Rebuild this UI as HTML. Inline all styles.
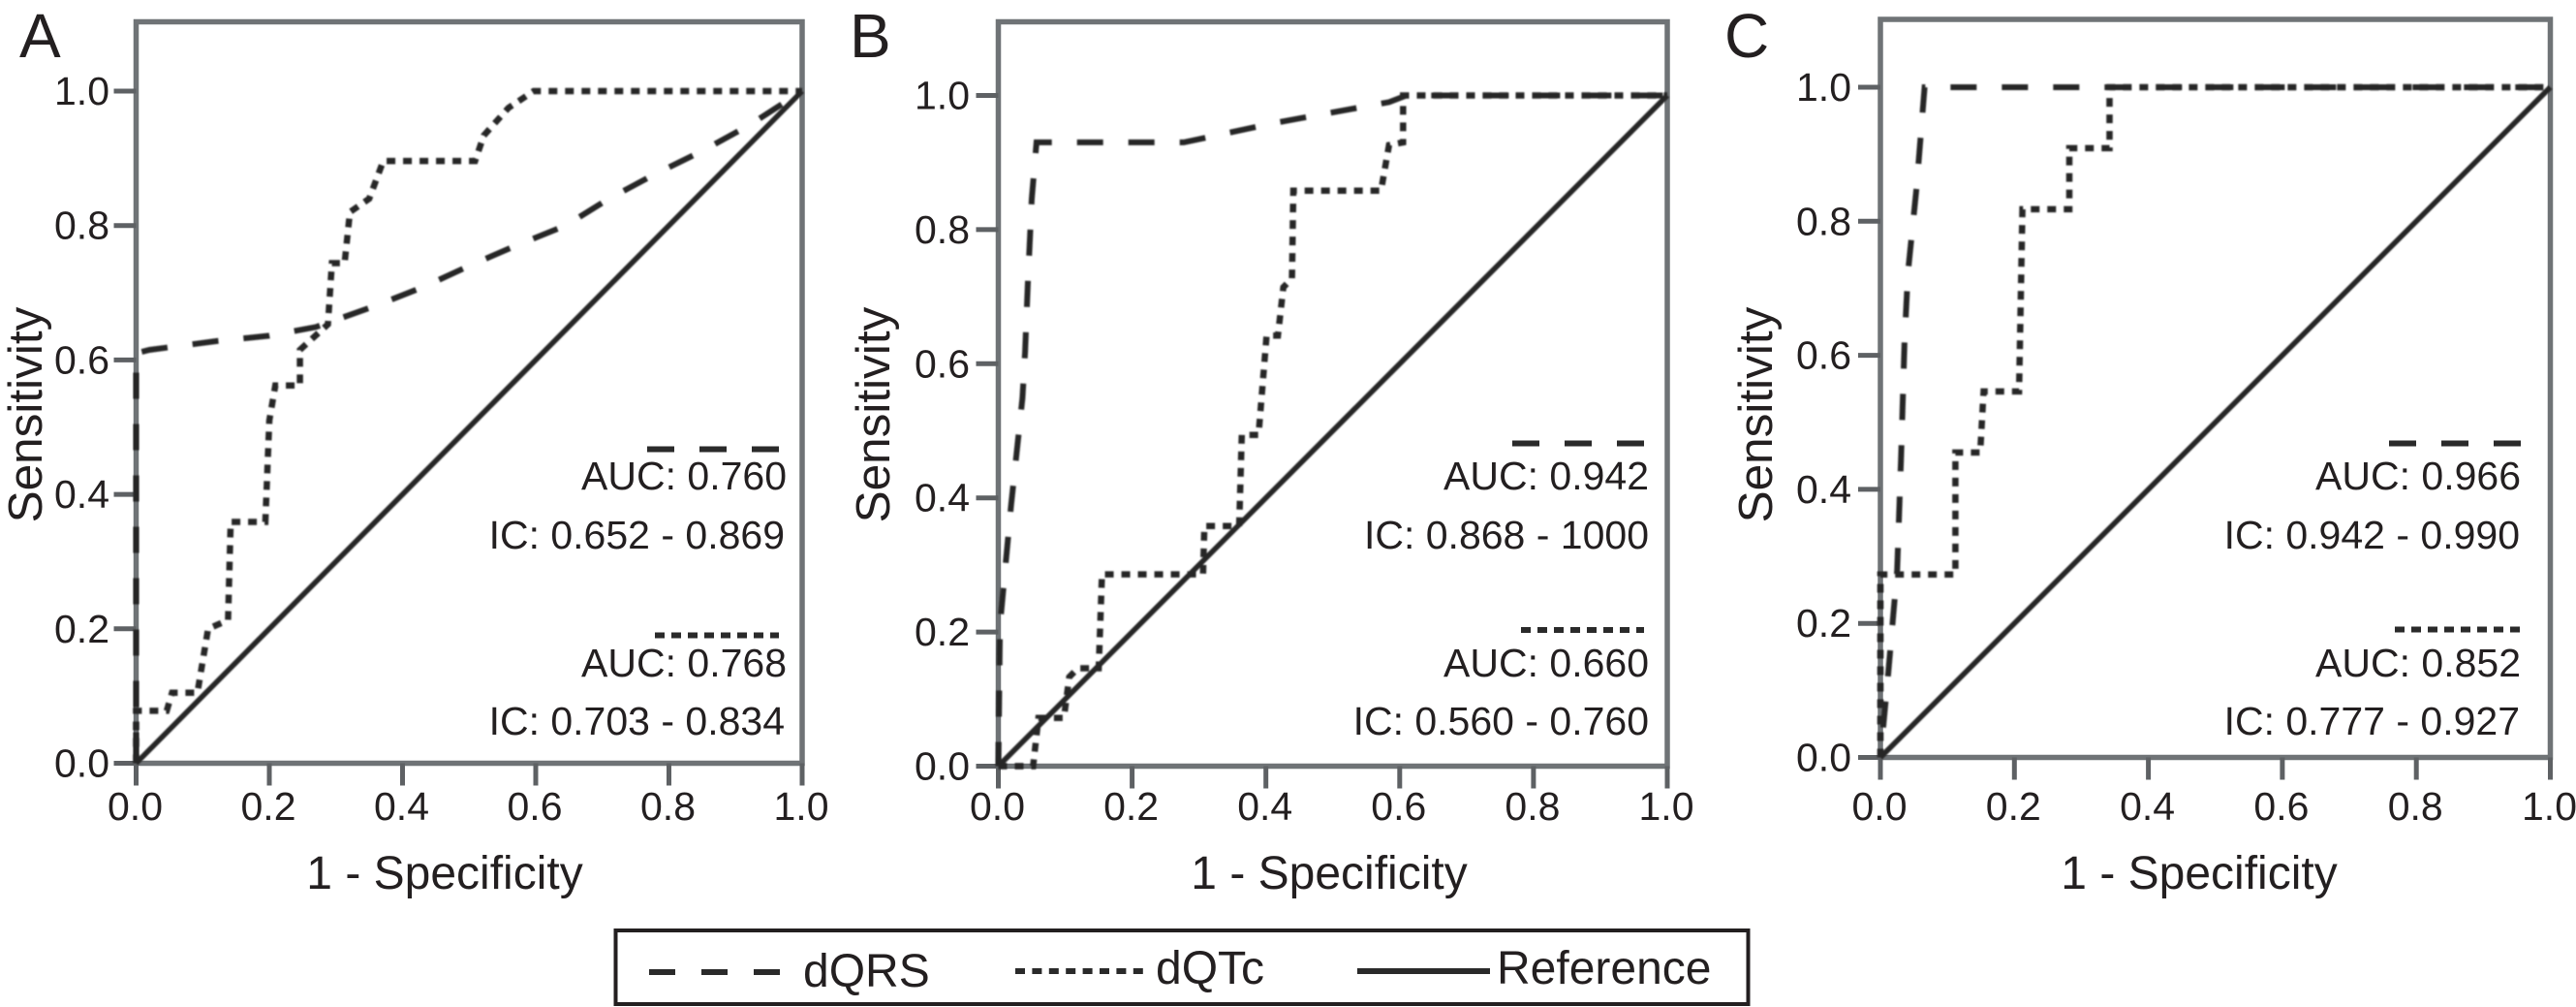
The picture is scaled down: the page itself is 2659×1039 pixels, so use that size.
<!DOCTYPE html>
<html lang="en">
<head>
<meta charset="utf-8">
<title>ROC curves for dQRS and dQTc</title>
<style>
  html, body { margin: 0; padding: 0; background: #fff; }
  body { width: 2659px; height: 1039px; overflow: hidden; }
  svg { display: block; }
  text { font-family: "Liberation Sans", sans-serif; fill: #231f20; }
  .tick { font-size: 41px; }
  .note { font-size: 41px; text-anchor: end; }
  .axis-title { font-size: 48px; text-anchor: middle; }
  .y-title { font-size: 49.5px; text-anchor: middle; }
  .panel-letter { font-size: 64px; }
  .legend-label { font-size: 48px; }
</style>
</head>
<body>
<svg id="fig" width="2659" height="1039" viewBox="0 0 2659 1039" xmlns="http://www.w3.org/2000/svg">
  <defs>
    <filter id="soft" x="-2%" y="-2%" width="104%" height="104%"><feGaussianBlur stdDeviation="0.7"/></filter>
  </defs>

  <g id="panel-a">
    <text class="panel-letter" x="20" y="59">A</text>
    <text class="y-title" transform="translate(43,428) rotate(-90)">Sensitivity</text>
    <text class="axis-title" x="459" y="917">1 - Specificity</text>
    <text class="note" x="812" y="505">AUC: 0.760</text>
    <text class="note" x="810" y="566">IC: 0.652 - 0.869</text>
    <text class="note" x="812" y="698">AUC: 0.768</text>
    <text class="note" x="810" y="758">IC: 0.703 - 0.834</text>
    <line x1="668" y1="463.5" x2="804" y2="463.5" stroke="#2a2a2a" stroke-width="6" stroke-dasharray="28 26"/>
    <line x1="676" y1="655.5" x2="804" y2="655.5" stroke="#2a2a2a" stroke-width="6" stroke-dasharray="10 7"/>
  </g>

  <g id="panel-b">
    <text class="panel-letter" x="877" y="59">B</text>
    <text class="y-title" transform="translate(918,428) rotate(-90)">Sensitivity</text>
    <text class="axis-title" x="1372" y="917">1 - Specificity</text>
    <text class="note" x="1702" y="505">AUC: 0.942</text>
    <text class="note" x="1702" y="566">IC: 0.868 - 1000</text>
    <text class="note" x="1702" y="698">AUC: 0.660</text>
    <text class="note" x="1702" y="758">IC: 0.560 - 0.760</text>
    <line x1="1561" y1="457.5" x2="1697" y2="457.5" stroke="#2a2a2a" stroke-width="6" stroke-dasharray="28 26"/>
    <line x1="1570" y1="650" x2="1697" y2="650" stroke="#2a2a2a" stroke-width="6" stroke-dasharray="10 7"/>
  </g>

  <g id="panel-c">
    <text class="panel-letter" x="1780" y="59">C</text>
    <text class="y-title" transform="translate(1829,428) rotate(-90)">Sensitivity</text>
    <text class="axis-title" x="2270" y="917">1 - Specificity</text>
    <text class="note" x="2602" y="505">AUC: 0.966</text>
    <text class="note" x="2601" y="566">IC: 0.942 - 0.990</text>
    <text class="note" x="2602" y="698">AUC: 0.852</text>
    <text class="note" x="2601" y="758">IC: 0.777 - 0.927</text>
    <line x1="2466" y1="457.5" x2="2602" y2="457.5" stroke="#2a2a2a" stroke-width="6" stroke-dasharray="28 26"/>
    <line x1="2472" y1="649.5" x2="2601" y2="649.5" stroke="#2a2a2a" stroke-width="6" stroke-dasharray="10 7"/>
  </g>

  <g id="legend">
    <rect x="635.5" y="960" width="1169" height="76" fill="#fff" stroke="#231f20" stroke-width="4"/>
    <line x1="670" y1="1003" x2="806" y2="1003" stroke="#2a2a2a" stroke-width="6" stroke-dasharray="27 27"/>
    <text class="legend-label" x="829" y="1018">dQRS</text>
    <line x1="1048" y1="1002" x2="1180" y2="1002" stroke="#2a2a2a" stroke-width="6" stroke-dasharray="10 7.4"/>
    <text class="legend-label" x="1193" y="1015">dQTc</text>
    <line x1="1401" y1="1002" x2="1538" y2="1002" stroke="#2a2a2a" stroke-width="6"/>
    <text class="legend-label" x="1545" y="1015">Reference</text>
  </g>
</svg>

<script>
// Axis ticks
const tickValues = [0, 0.2, 0.4, 0.6, 0.8, 1.0];
const tickLabels = ["0.0", "0.2", "0.4", "0.6", "0.8", "1.0"];

// Reference diagonal
const referenceFpr = [0, 1];
const referenceSens = [0, 1];

// Panel A
const aQrsFpr = [0, 0, 0.02, 0.12, 0.2, 0.27, 0.355, 0.43, 0.5, 0.57, 0.645, 0.71, 0.78, 0.85, 0.92, 1];
const aQrsSens = [0, 0.61, 0.615, 0.628, 0.636, 0.649, 0.679, 0.708, 0.74, 0.77, 0.80, 0.84, 0.877, 0.911, 0.949, 1];
const aQtcFpr = [0, 0, 0.046, 0.054, 0.092, 0.108, 0.138, 0.142, 0.194, 0.2, 0.209, 0.246, 0.246, 0.288, 0.294, 0.313, 0.321, 0.35, 0.371, 0.509, 0.522, 0.559, 0.597, 1];
const aQtcSens = [0, 0.078, 0.078, 0.105, 0.105, 0.2, 0.213, 0.359, 0.359, 0.51, 0.562, 0.562, 0.615, 0.653, 0.744, 0.744, 0.82, 0.84, 0.896, 0.896, 0.934, 0.975, 1, 1];

// Panel B
const bQrsFpr = [0, 0.0025, 0.019, 0.036, 0.04, 0.044, 0.05, 0.057, 0.277, 0.418, 0.584, 0.61, 1];
const bQrsSens = [0, 0.21, 0.388, 0.549, 0.617, 0.718, 0.846, 0.93, 0.93, 0.96, 0.99, 1, 1];
const bQtcFpr = [0, 0.052, 0.06, 0.098, 0.106, 0.119, 0.15, 0.155, 0.306, 0.308, 0.36, 0.364, 0.389, 0.401, 0.418, 0.426, 0.439, 0.441, 0.572, 0.584, 0.605, 0.605, 1];
const bQtcSens = [0, 0, 0.072, 0.072, 0.133, 0.146, 0.146, 0.286, 0.286, 0.358, 0.358, 0.494, 0.494, 0.642, 0.642, 0.714, 0.727, 0.858, 0.858, 0.926, 0.93, 1, 1];

// Panel C
const cQrsFpr = [0, 0.012, 0.025, 0.031, 0.036, 0.041, 0.054, 0.066, 1];
const cQrsSens = [0, 0.129, 0.28, 0.451, 0.621, 0.723, 0.85, 1, 1];
const cQtcFpr = [0, 0, 0.112, 0.112, 0.149, 0.154, 0.207, 0.212, 0.282, 0.282, 0.342, 0.342, 1];
const cQtcSens = [0, 0.273, 0.273, 0.455, 0.455, 0.546, 0.546, 0.818, 0.818, 0.909, 0.909, 1, 1];

const NS = "http://www.w3.org/2000/svg";

function svgEl(tag, parent) {
  const el = document.createElementNS(NS, tag);
  parent.appendChild(el);
  return el;
}

function drawPanel(id, left, right, top, yOne, yZero, labelRight, labelBase, dashPhase, qrsX, qrsY, qtcX, qtcY) {
  const g = document.getElementById(id);
  const xScale = v => left + (right - left) * v;
  const yScale = v => yZero + (yOne - yZero) * v;
  const pathOf = (xs, ys) => xs.map((x, i) => (i ? "L" : "M") + xScale(x).toFixed(1) + " " + yScale(ys[i]).toFixed(1)).join(" ");

  const frame = svgEl("rect", g);
  
  
  frame.setAttribute("x", left);
  frame.setAttribute("y", top);
  frame.setAttribute("width", right - left);
  frame.setAttribute("height", yZero - top);
  frame.setAttribute("fill", "none");
  frame.setAttribute("stroke", "#6f7376");
  frame.setAttribute("stroke-width", "5.5");

  tickValues.forEach((value, i) => {
    const xTick = svgEl("line", g);
    
    
    xTick.setAttribute("x1", xScale(value));
    xTick.setAttribute("x2", xScale(value));
    xTick.setAttribute("y1", yZero);
    xTick.setAttribute("y2", yZero + 23);
    xTick.setAttribute("stroke", "#5e6164");
    xTick.setAttribute("stroke-width", "5");

    const yTick = svgEl("line", g);
    
    
    yTick.setAttribute("x1", left - 23);
    yTick.setAttribute("x2", left);
    yTick.setAttribute("y1", yScale(value));
    yTick.setAttribute("y2", yScale(value));
    yTick.setAttribute("stroke", "#5e6164");
    yTick.setAttribute("stroke-width", "5");

    const xLabel = svgEl("text", g);
    
    
    xLabel.setAttribute("class", "tick");
    xLabel.setAttribute("text-anchor", "middle");
    xLabel.setAttribute("x", xScale(value) - 1);
    xLabel.setAttribute("y", labelBase);
    xLabel.textContent = tickLabels[i];

    const yLabel = svgEl("text", g);
    
    
    yLabel.setAttribute("class", "tick");
    yLabel.setAttribute("text-anchor", "end");
    yLabel.setAttribute("x", labelRight);
    yLabel.setAttribute("y", yScale(value) + 14);
    yLabel.textContent = tickLabels[i];
  });

  const marks = svgEl("g", g);
  
  
  marks.setAttribute("filter", "url(#soft)");

  const refLine = svgEl("path", marks);
  
  
  refLine.setAttribute("d", pathOf(referenceFpr, referenceSens));
  refLine.setAttribute("fill", "none");
  refLine.setAttribute("stroke", "#262626");
  refLine.setAttribute("stroke-width", "5.5");

  const qrsLine = svgEl("path", marks);
  
  
  qrsLine.setAttribute("d", pathOf(qrsX, qrsY));
  qrsLine.setAttribute("fill", "none");
  qrsLine.setAttribute("stroke", "#262626");
  qrsLine.setAttribute("stroke-width", "6");
  qrsLine.setAttribute("stroke-dasharray", "27 26");
  qrsLine.setAttribute("stroke-dashoffset", dashPhase);

  const qtcLine = svgEl("path", marks);
  
  
  qtcLine.setAttribute("d", pathOf(qtcX, qtcY));
  qtcLine.setAttribute("fill", "none");
  qtcLine.setAttribute("stroke", "#262626");
  qtcLine.setAttribute("stroke-width", "6.5");
  qtcLine.setAttribute("stroke-dasharray", "9 8");
}

drawPanel("panel-a", 140.5, 828, 22.5, 94, 787.5, 113, 846, -5, aQrsFpr, aQrsSens, aQtcFpr, aQtcSens);
drawPanel("panel-b", 1030.5, 1721, 22.5, 98.5, 790.5, 1001, 846, -51, bQrsFpr, bQrsSens, bQtcFpr, bQtcSens);
drawPanel("panel-c", 1941, 2632.5, 20, 90, 781.5, 1911, 846, -31, cQrsFpr, cQrsSens, cQtcFpr, cQtcSens);
</script>
</body>
</html>
